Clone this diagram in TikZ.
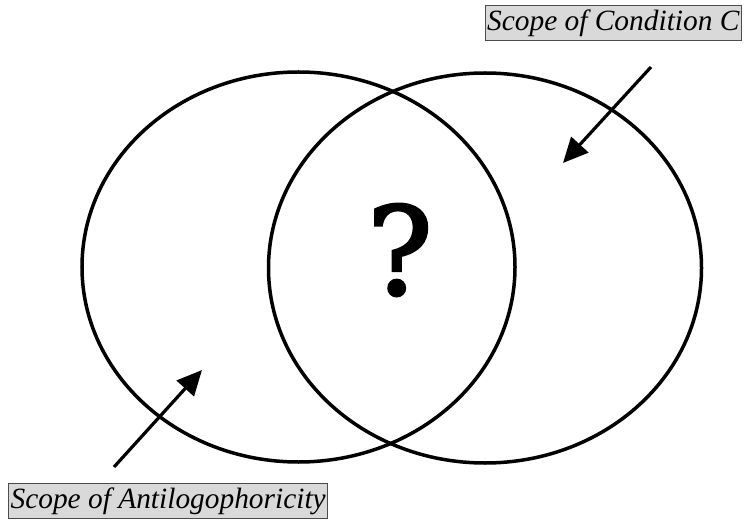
\documentclass[tikz,border=0pt]{standalone}
\usepackage{fontspec}
\setmainfont{Liberation Serif}
\newfontfamily\markfont[FakeBold=2.5]{DejaVu Serif}
\usetikzlibrary{shapes.geometric,arrows.meta}
\begin{document}
\begin{tikzpicture}[x=1bp,y=-1bp,
  setring/.style={draw=black,line width=3.5bp,ellipse,inner sep=0pt,
    minimum width=433bp,minimum height=390bp},
  tagbox/.style={draw=black!70,fill=black!15,line width=1.2bp,
    inner xsep=2bp,inner ysep=4bp,
    font=\fontsize{29.5}{32}\selectfont\itshape},
  pointer/.style={line width=3.2bp,-{Triangle[length=25bp,width=23bp]}}]
  \useasboundingbox (0,0) rectangle (746,521);
  % the two overlapping scopes
  \node[setring] (anti) at (298.5,267) {};
  \node[setring] (condc) at (485,268) {};
  % the unknown overlap
  \node[font=\markfont\fontsize{122}{122}\selectfont] (q) at (400,250) {?};
  % labels
  \node[tagbox,anchor=north east] (lc) at (742,5) {Scope of Condition C};
  \node[tagbox,anchor=south west] (la) at (8,519) {Scope of Antilogophoricity};
  % arrows pointing into each scope
  \coordinate (cfrom) at (651,67);
  \coordinate (cto) at (563,163);
  \coordinate (afrom) at (114,467);
  \coordinate (ato) at (202,370);
  \draw[pointer] (cfrom) -- (cto);
  \draw[pointer] (afrom) -- (ato);
\end{tikzpicture}
\end{document}
